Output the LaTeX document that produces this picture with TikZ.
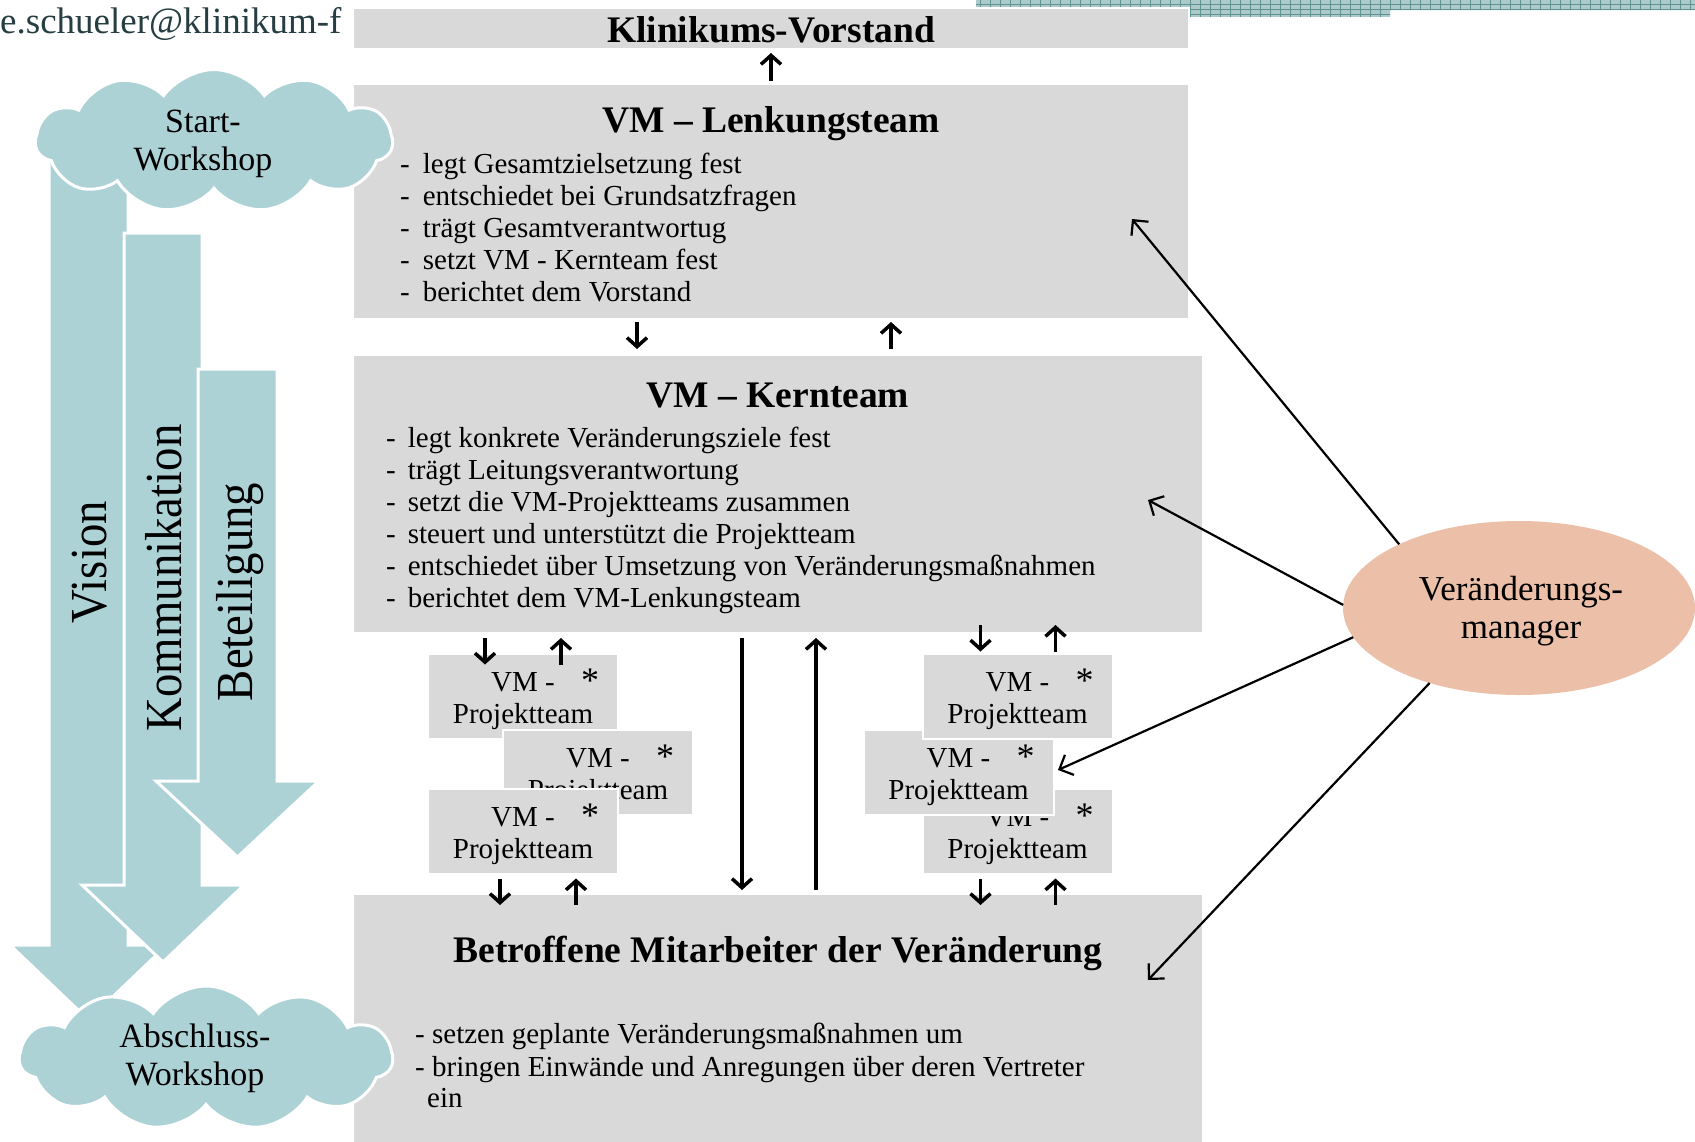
\documentclass[tikz,border=0pt]{standalone}
\usepackage{fontspec}
\setmainfont{Liberation Serif}
\usetikzlibrary{shapes.geometric,shapes.symbols,arrows.meta,calc}

\definecolor{boxgray}{RGB}{217,217,217}
\definecolor{flowteal}{RGB}{173,210,214}
\definecolor{mgrpeach}{RGB}{236,192,168}
\definecolor{mailgray}{RGB}{38,62,66}
\definecolor{gridfill}{RGB}{172,202,202}
\definecolor{gridline}{RGB}{96,146,146}

\newcommand\vmtitle{\fontsize{37.5}{40}\selectfont\bfseries}
\newcommand\vmbody{\fontsize{29}{32}\selectfont}
\newcommand\vmcloud{\fontsize{34}{38}\selectfont}
\newcommand\vmflow{\fontsize{52}{56}\selectfont}

\tikzset{
  graybox/.style={fill=boxgray, draw=white, line width=2pt, inner sep=0pt, outer sep=0pt},
  ptbox/.style={graybox, minimum width=190pt, minimum height=85pt},
  pttext/.style={inner sep=0pt, align=center, font=\vmbody},
  item/.style={inner sep=0pt, anchor=west, font=\vmbody, text height=20pt, text depth=7pt},
  boxtitle/.style={inner sep=0pt, font=\vmtitle, text height=27pt, text depth=8pt},
  astx/.style={inner sep=0pt, font=\fontsize{36}{36}\selectfont},
  flowarrow/.style={fill=flowteal, draw=white, line width=3pt, line join=miter},
  flowtext/.style={rotate=90, inner sep=0pt, font=\vmflow},
  wscloud/.style={cloud, cloud puffs=11, cloud puff arc=110, aspect=2.5, fill=flowteal,
    draw=white, line width=3pt, inner sep=0pt},
  cloudtext/.style={inner sep=0pt, align=center, font=\vmcloud},
  mgr/.style={ellipse, fill=mgrpeach, inner sep=0pt, outer sep=0pt, minimum width=352pt,
    minimum height=174pt},
  mgrtext/.style={inner sep=0pt, align=center, font=\fontsize{35}{38}\selectfont},
  flow/.style={-{Straight Barb[length=9pt,width=20pt]}, line width=3.5pt},
  mgrarrow/.style={-{Straight Barb[length=11pt,width=22pt]}, line width=2.2pt}
}

\begin{document}
\begin{tikzpicture}[x=1pt, y=-1pt]
  \useasboundingbox[fill=white] (0,0) rectangle (1695,1141);

  % pattern strip at the top
  \begin{scope}
    \clip (976,0) rectangle (1390,17) (1390,0) rectangle (1695,10);
    \fill[gridfill] (976,0) rectangle (1695,17);
    \foreach \gx in {980,990,...,1690}
      \draw[gridline, line width=0.7pt] (\gx,0) -- (\gx,17);
    \foreach \gy in {4,9,14}
      \draw[gridline, line width=0.5pt] (976,\gy) -- (1695,\gy);
  \end{scope}

  \node[anchor=west, inner sep=0pt, text=mailgray, font=\fontsize{37}{40}\selectfont]
    (Mail) at (0,24) {e.schueler@klinikum-f};

  % block arrows
  \draw[flowarrow] (49,150) -- (128,150) -- (128,945) -- (167,945) -- (88.5,1020)
    -- (10,945) -- (49,945) -- cycle;
  \draw[flowarrow] (124,233) -- (202,233) -- (202,885) -- (244,885) -- (163,962)
    -- (82,885) -- (124,885) -- cycle;
  \draw[flowarrow] (198,369) -- (277,369) -- (277,781) -- (319,781) -- (237.5,857)
    -- (156,781) -- (198,781) -- cycle;
  \node[flowtext] (Vision) at (90,562) {\scalebox{0.9}[1]{Vision}};
  \node[flowtext] (Komm) at (164,578) {\scalebox{0.9}[1]{Kommunikation}};
  \node[flowtext] (Beteil) at (240,592) {\scalebox{0.9}[1]{Beteiligung}};

  % main boxes
  \node[graybox, minimum width=836pt, minimum height=41pt] (Vorst) at (771,28.5) {};
  \node[boxtitle] (VorstT) at (771,32.5) {Klinikums-Vorstand};

  \node[graybox, minimum width=836pt, minimum height=235pt] (Lenk) at (771,201.5) {};
  \node[boxtitle] (LenkT) at (771,122.5) {VM -- Lenkungsteam};
  \foreach \txt [count=\i from 0] in {legt Gesamtzielsetzung fest,
      entschiedet bei Grundsatzfragen, trägt Gesamtverantwortug,
      setzt VM - Kernteam fest, berichtet dem Vorstand}
    \node[item] (lenk\i) at (400,{166.5+32*\i}) {-\hspace{13pt}\txt};

  \node[graybox, minimum width=850pt, minimum height=278pt] (Kern) at (778,494) {};
  \node[boxtitle] (KernT) at (778,397.5) {VM -- Kernteam};
  \foreach \txt [count=\i from 0] in {legt konkrete Veränderungsziele fest,
      trägt Leitungsverantwortung, setzt die VM-Projektteams zusammen,
      steuert und unterstützt die Projektteam,
      entschiedet über Umsetzung von Veränderungsmaßnahmen,
      berichtet dem VM-Lenkungsteam}
    \node[item] (kern\i) at (386,{440.5+32*\i}) {-\hspace{12pt}\txt};

  \node[graybox, minimum width=850pt, minimum height=251pt] (Betr) at (778,1019.5) {};
  \node[boxtitle] (BetrT) at (778,952.5) {Betroffene Mitarbeiter der Veränderung};
  \node[item] (betr0) at (415,1036.5) {- setzen geplante Veränderungsmaßnahmen um};
  \node[item] (betr1) at (415,1069.5) {- bringen Einwände und Anregungen über deren Vertreter};
  \node[item] (betr2) at (427,1100.5) {ein};

  % project teams
  \foreach \pt/\px/\py in {L1/523/696, L2/598/772, L3/523/831,
      R3/1017.5/831, R2/958.5/772, R1/1017.5/696} {
    \node[ptbox] (\pt) at (\px,\py) {};
    \node[pttext] (\pt-txt) at (\px,{\py+5}) {VM -\\Projektteam};
    \node[astx] (\pt-ast) at ($(\pt.north east)+(-28,27)$) {*};
  }

  % workshops
  \node[wscloud, minimum width=357pt, minimum height=143pt] (Start) at (214,141) {};
  \node[cloudtext] (StartT) at (203,144) {Start-\\Workshop};
  \node[wscloud, minimum width=373pt, minimum height=144pt] (Ende) at (206,1058) {};
  \node[cloudtext] (EndeT) at (195,1058) {Abschluss-\\Workshop};

  % flows between the levels
  \draw[flow] ($(Lenk.north)+(0,-3)$) -- ($(Vorst.south)+(0,4)$);
  \draw[flow] ($(Lenk.south)+(-134,3)$) -- ($(Kern.north)+(-141,-6)$);
  \draw[flow] ($(Kern.north)+(113,-6)$) -- ($(Lenk.south)+(120,3)$);
  \draw[flow] ($(Kern.south)+(-36,5)$) -- ($(Betr.north)+(-36,-4)$);
  \draw[flow] ($(Betr.north)+(38,-4)$) -- ($(Kern.south)+(38,5)$);
  \draw[flow] ($(Kern.south -| L1.north)+(-38,5)$) -- ($(L1.north)+(-38,11)$);
  \draw[flow] ($(L1.north)+(38,11)$) -- ($(Kern.south -| L1.north)+(38,5)$);
  \draw[flow] ($(L3.south)+(-23,5)$) -- ($(Betr.north -| L3.south)+(-23,11)$);
  \draw[flow] ($(Betr.north -| L3.south)+(53,11)$) -- ($(L3.south)+(53,5)$);
  \draw[flow] ($(Kern.south -| R1.north)+(-37,-8)$) -- ($(R1.north)+(-37,-2)$);
  \draw[flow] ($(R1.north)+(38,-2)$) -- ($(Kern.south -| R1.north)+(38,-8)$);
  \draw[flow] ($(R3.south)+(-37,5)$) -- ($(Betr.north -| R3.south)+(-37,11)$);
  \draw[flow] ($(Betr.north -| R3.south)+(38,11)$) -- ($(R3.south)+(38,5)$);

  % change manager
  \node[mgr] (Mgr) at (1519,608) {};
  \node[mgrtext] (MgrT) at (1521,611) {Veränderungs-\\manager};
  \coordinate (toLenk) at (1132,219);
  \coordinate (toKern) at (1148,500);
  \coordinate (toPT) at (1058,770);
  \coordinate (toBetr) at (1148,980);
  \draw[mgrarrow] (Mgr.152) -- (toLenk);
  \draw[mgrarrow] (Mgr.179) -- (toKern);
  \draw[mgrarrow] (Mgr.190) -- (toPT);
  \draw[mgrarrow] (Mgr.220) -- (toBetr);
\end{tikzpicture}
\end{document}
